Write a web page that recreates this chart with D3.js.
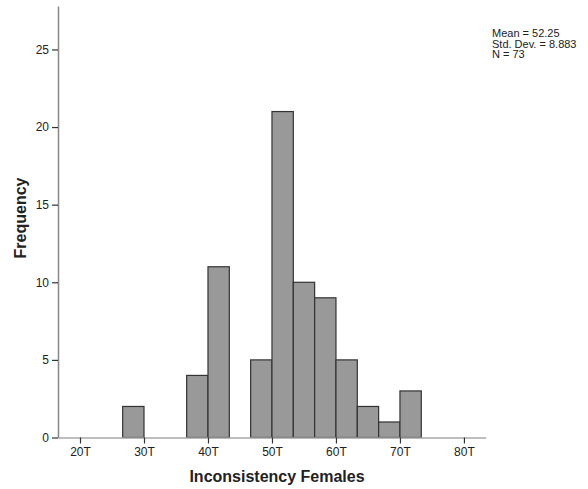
<!DOCTYPE html>
<html>
<head>
<meta charset="utf-8">
<script src="https://cdn.jsdelivr.net/npm/d3@7"></script>
<style>
  html, body { margin: 0; padding: 0; background: #fff; }
  svg { display: block; }
  text { font-family: Arial, "Liberation Sans", sans-serif; fill: #222; }
</style>
</head>
<body>
<svg id="chart" width="588" height="489"></svg>
<script>
// Histogram bins (T-score intervals of width 10/3) and their frequencies
const binLower = [26.667, 36.667, 40, 46.667, 50, 53.333, 56.667, 60, 63.333, 66.667, 70];
const binUpper = [30, 40, 43.333, 50, 53.333, 56.667, 60, 63.333, 66.667, 70, 73.333];
const counts   = [2, 4, 11, 5, 21, 10, 9, 5, 2, 1, 3];

// Axis ticks
const xTickValues = [20, 30, 40, 50, 60, 70, 80];
const xTickLabels = ["20T", "30T", "40T", "50T", "60T", "70T", "80T"];
const yTickValues = [0, 5, 10, 15, 20, 25];

// Summary statistics
const statsLines = ["Mean = 52.25", "Std. Dev. = 8.883", "N = 73"];

const xTitle = "Inconsistency Females";
const yTitle = "Frequency";

const svg = d3.select("#chart");

const x = d3.scaleLinear().domain([16.56, 83.4]).range([58, 485.7]);
const y = d3.scaleLinear().domain([0, 27.8]).range([437.5, 6]);

const bins = counts.map((c, i) => ({ x0: binLower[i], x1: binUpper[i], n: c }));

// Bars
svg.append("g")
  .selectAll("rect")
  .data(bins)
  .join("rect")
  .attr("x", d => x(d.x0))
  .attr("y", d => y(d.n))
  .attr("width", d => x(d.x1) - x(d.x0))
  .attr("height", d => y(0) - y(d.n))
  .attr("fill", "#999999")
  .attr("stroke", "#333333")
  .attr("stroke-width", 1.2);

// X axis
const xAxis = d3.axisBottom(x)
  .tickValues(xTickValues)
  .tickFormat((d, i) => xTickLabels[i])
  .tickSize(6)
  .tickSizeOuter(0)
  .tickPadding(4);

const gx = svg.append("g")
  .attr("transform", `translate(0,${y(0)})`)
  .call(xAxis);
gx.select(".domain").attr("stroke", "#a8a8a8").attr("stroke-width", 1.5);
gx.selectAll(".tick line").attr("stroke", "#333").attr("stroke-width", 1.2);
gx.selectAll(".tick text")
  .style("font-size", "12px")
  .style("fill", "#222");

// Y axis
const yAxis = d3.axisLeft(y)
  .tickValues(yTickValues)
  .tickSize(6)
  .tickSizeOuter(0)
  .tickPadding(3);

const gy = svg.append("g")
  .attr("transform", `translate(${x.range()[0]},0)`)
  .call(yAxis);
gy.select(".domain").attr("stroke", "#888").attr("stroke-width", 1.5);
gy.selectAll(".tick line").attr("stroke", "#333").attr("stroke-width", 1.2);
gy.selectAll(".tick text")
  .style("font-size", "12px")
  .style("fill", "#222");

// Axis titles
svg.append("text")
  .attr("x", 277)
  .attr("y", 482)
  .attr("text-anchor", "middle")
  .style("font-size", "16px")
  .style("font-weight", "bold")
  .text(xTitle);

svg.append("text")
  .attr("transform", "translate(26,218) rotate(-90)")
  .attr("text-anchor", "middle")
  .style("font-size", "16px")
  .style("font-weight", "bold")
  .text(yTitle);

// Summary statistics box
svg.append("g")
  .selectAll("text")
  .data(statsLines)
  .join("text")
  .attr("x", 492)
  .attr("y", (d, i) => 37 + i * 10.5)
  .style("font-size", "11px")
  .text(d => d);
</script>
</body>
</html>
